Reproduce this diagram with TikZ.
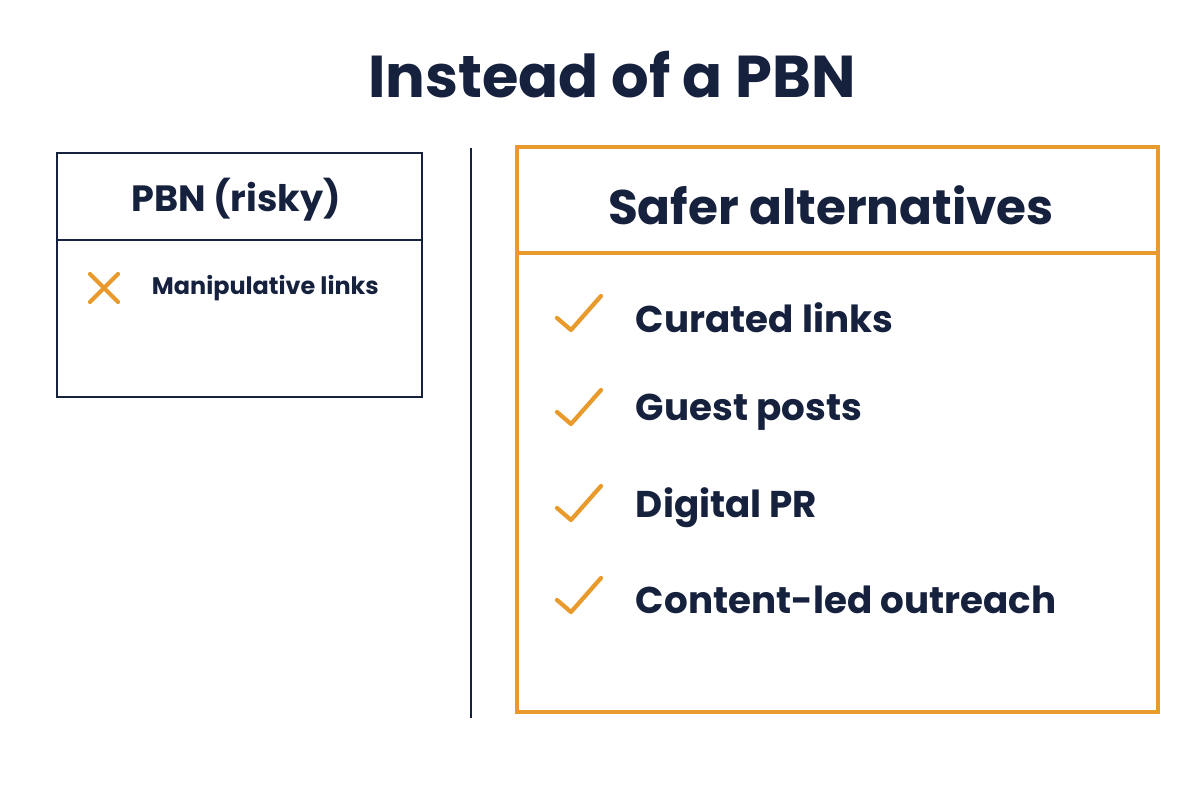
\documentclass[tikz,border=0pt]{standalone}
\usepackage{fontspec}
\setmainfont{Poppins}
\usetikzlibrary{calc}
\definecolor{navy}{HTML}{16213D}
\definecolor{org}{HTML}{E99A2C}
\begin{document}
\begin{tikzpicture}[x=0.025cm,y=-0.025cm,
  navyline/.style={draw=navy,line width=1.1pt},
  orgline/.style={draw=org,line width=2.2pt},
  omark/.style={draw=org,line width=3pt,line cap=round,line join=round},
  item/.style={anchor=west,text=navy,font=\fontsize{26.5}{30}\selectfont\bfseries}]
\useasboundingbox (0,0) rectangle (1200,800);
\fill[white] (0,0) rectangle (1200,800);
\node[text=navy,font=\fontsize{42}{46}\selectfont\bfseries] (title) at (612,75) {Instead of a PBN};
% left box
\draw[navyline] (57,153) rectangle (422,397);
\draw[navyline] (57,240) -- (422,240);
\node[text=navy,font=\fontsize{26}{30}\selectfont\bfseries] (lh) at (236,200) {PBN (risky)};
\coordinate (x0) at (104,288);
\draw[omark] ($(x0)+(-14,-14)$) -- ($(x0)+(14,14)$) ($(x0)+(-14,14)$) -- ($(x0)+(14,-14)$);
\node[anchor=west,text=navy,font=\fontsize{17}{20}\selectfont\bfseries] (l1) at (147,288) {Manipulative links};
% divider
\coordinate (d1) at (471,148); \coordinate (d2) at (471,718);
\draw[navyline] (d1) -- (d2);
% right box
\draw[orgline] (517,147) rectangle (1158,712);
\draw[orgline] (517,253) -- (1158,253);
\node[text=navy,font=\fontsize{34.5}{38}\selectfont\bfseries] (rh) at (831,205) {Safer alternatives};
\foreach \y/\t/\n in {318/Curated links/a,412/Guest posts/b,508/Digital PR/c,600/Content-led outreach/d}{
  \draw[omark] (557,\y) -- (571,\y+12) -- (601,\y-22);
  \node[item] (\n) at (631,\y) {\t};
}
\end{tikzpicture}
\end{document}
